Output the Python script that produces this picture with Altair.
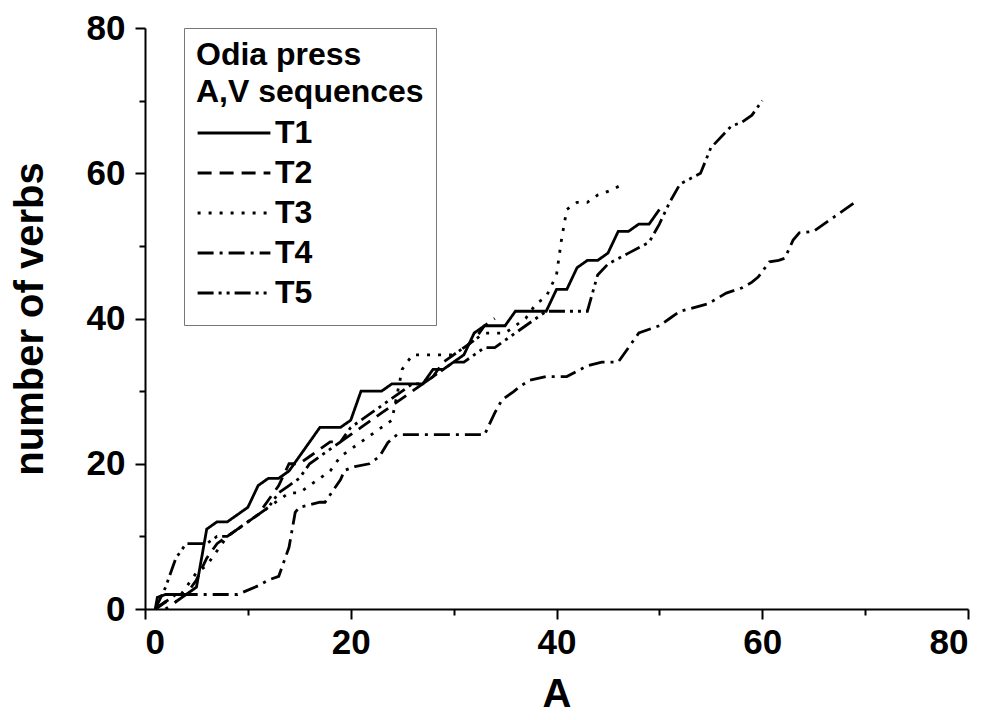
import altair as alt
import pandas as pd

# Cumulative count of verbs against A for five texts
t1_a = [1, 1.2, 2, 3, 4, 5, 6, 7, 8, 9, 10, 11, 12, 13, 14, 15, 16, 17, 18, 19, 20,
        21, 22, 23, 24, 25, 26, 27, 28, 29, 30, 31, 32, 33, 34, 35, 36, 37, 38, 39,
        40, 41, 42, 43, 44, 45, 46, 47, 48, 49, 50]
t1_v = [0, 1.6, 2, 2, 2, 3, 11, 12, 12, 13, 14, 17, 18, 18, 19, 21, 23, 25, 25, 25, 26,
        30, 30, 30, 31, 31, 31, 31, 33, 33, 34, 35, 38, 39, 39, 39, 41, 41, 41, 41,
        44, 44, 47, 48, 48, 49, 52, 52, 53, 53, 55]

t2_a = [1, 2, 3, 4, 5, 6, 7, 8, 9, 10, 11, 12, 13, 14, 15, 16, 17, 18, 19, 20,
        21, 22, 23, 24, 25, 26, 27, 28, 29, 30, 31, 32, 33, 34]
t2_v = [0, 1, 1, 2, 4, 7, 9, 10, 11, 12, 13, 15, 17, 20, 20, 21, 22, 23, 23, 24,
        25, 26, 27, 28, 29, 30, 31, 32, 34, 35, 36, 37, 39, 40]

t3_a = [2, 3, 4, 5, 6, 7, 8, 9, 10, 11, 12, 13, 14, 15, 16, 17, 18, 19, 20, 21,
        22, 23, 24, 25, 26, 27, 28, 29, 30, 31, 32, 33, 34, 35, 36, 37, 38, 39, 40,
        40.5, 41, 42, 43, 44, 45, 46.5]
t3_v = [0, 1, 3, 5, 6, 8, 10, 11, 12, 13, 14, 15, 16, 16, 17, 18, 19, 21, 22, 23,
        24, 25, 26, 33, 35, 35, 35, 35, 35, 36, 37, 38, 38, 38, 39, 40, 42, 43, 46,
        51, 55, 56, 56, 57, 57.5, 58.5]

t4_a = [1, 2, 3, 5, 7, 9, 11, 12, 13, 14, 14.6, 15, 17, 17.5, 19, 19.4, 20.4, 21.8,
        22.8, 23.6, 24.5, 33, 34, 34.7, 35.8, 36.4, 37.4, 39, 41, 43, 44.4, 46, 47, 48,
        50, 51, 52, 54.7, 56.5, 58, 59, 59.6, 60.7, 61.6, 62.2, 63, 63.6, 65, 67, 69]
t4_v = [0, 1, 2, 2, 2, 2, 3.2, 4, 4.5, 8.5, 13.3, 14, 14.7, 14.7, 17.8, 19.1, 19.6, 20,
        21, 22.9, 24, 24, 27, 28.8, 29.9, 30.6, 31.5, 32, 32, 33.5, 34, 34, 36, 38,
        39, 40, 41, 42, 43.5, 44.2, 45, 45.7, 47.8, 48, 48.3, 50.8, 51.8, 52, 54, 56]

t5_a = [1, 2, 3, 4, 5, 6, 7, 8, 9, 10, 11, 12, 13, 14, 15, 16, 17, 18, 19, 20,
        21, 22, 23, 24, 25, 26, 27, 28, 29, 30, 31, 32, 33, 34, 35, 36, 37, 38, 39,
        40, 41, 42, 43, 44, 45, 47, 49, 50, 51, 52, 54, 55, 57, 58, 59, 60]
t5_v = [0, 3, 7, 9, 9, 9, 10, 10, 11, 12, 13, 14, 16, 17, 18, 20, 21, 22, 23, 25,
        26, 27, 28, 29, 30, 31, 31, 32, 33, 34, 34, 35, 36, 36, 37, 38, 39, 40, 41,
        41, 41, 41, 41, 46, 47.5, 49, 50.5, 53, 56, 58.5, 60, 63.5, 66.5, 67, 68, 70]

series_names = ["T1", "T2", "T3", "T4", "T5"]
series_a = [t1_a, t2_a, t3_a, t4_a, t5_a]
series_v = [t1_v, t2_v, t3_v, t4_v, t5_v]
dash_patterns = [[1, 0], [14, 8], [3, 8], [16, 6, 3, 6], [16, 5, 3, 5, 3, 5]]

rows = []
for name, xs, ys in zip(series_names, series_a, series_v):
    for i, (a, v) in enumerate(zip(xs, ys)):
        rows.append({"series": name, "A": a, "verbs": v, "idx": i})
df = pd.DataFrame(rows)

FONT = "Liberation Sans"
major = [0, 20, 40, 60, 80]
minor = [10, 30, 50, 70]

x_scale = alt.Scale(domain=[0, 80], nice=False, zero=False)
y_scale = alt.Scale(domain=[0, 80], nice=False, zero=False)

axis_common = dict(
    domainColor="black", domainWidth=2, tickColor="black", tickWidth=2,
    grid=False, labelFont=FONT, labelFontWeight="bold", labelFontSize=35,
    labelColor="black", titleFont=FONT, titleFontWeight="bold",
    titleFontSize=40, titleColor="black",
)

lines = alt.Chart(df).mark_line(strokeWidth=2.8, color="black").encode(
    x=alt.X("A:Q", scale=x_scale,
            axis=alt.Axis(values=major, tickSize=10, labelPadding=6, title="A",
                          titlePadding=14, orient="bottom", **axis_common)),
    y=alt.Y("verbs:Q", scale=y_scale,
            axis=alt.Axis(values=major, tickSize=10, labelPadding=10,
                          title="number of verbs", titlePadding=36, orient="left",
                          **axis_common)),
    strokeDash=alt.StrokeDash(
        "series:N",
        scale=alt.Scale(domain=series_names, range=dash_patterns),
        legend=alt.Legend(
            title=["Odia press", "A,V sequences"], orient="none",
            legendX=39, legendY=0, strokeColor="#777777", fillColor="white",
            padding=12, titleFont=FONT, titleFontWeight="bold", titleFontSize=32,
            titleColor="black", titleLineHeight=37, titlePadding=4,
            titleLimit=400, labelLimit=200,
            labelFont=FONT, labelFontWeight="bold", labelFontSize=32,
            labelColor="black", symbolType="stroke", symbolSize=5300,
            symbolStrokeWidth=2.8, symbolStrokeColor="black", rowPadding=0,
            clipHeight=40, labelOffset=3,
        ),
    ),
    order="idx:Q",
)

# Minor ticks on both axes, without labels
minor_ticks = alt.Chart(df).mark_line(opacity=0).encode(
    x=alt.X("A:Q", scale=x_scale,
            axis=alt.Axis(values=minor, tickSize=6, labels=False, domain=False,
                          title=None, orient="bottom", tickColor="black",
                          tickWidth=2, grid=False)),
    y=alt.Y("verbs:Q", scale=y_scale,
            axis=alt.Axis(values=minor, tickSize=6, labels=False, domain=False,
                          title=None, orient="left", tickColor="black",
                          tickWidth=2, grid=False)),
    detail="series:N",
)

chart = alt.layer(lines, minor_ticks).resolve_axis(
    x="independent", y="independent"
).properties(
    width=823, height=581,
    autosize=alt.AutoSizeParams(type="none"),
    padding={"left": 145, "top": 28, "right": 23, "bottom": 111},
    background="white",
).configure_view(stroke=None)

chart.save("out.html", embed_options={"renderer": "svg", "actions": False})
